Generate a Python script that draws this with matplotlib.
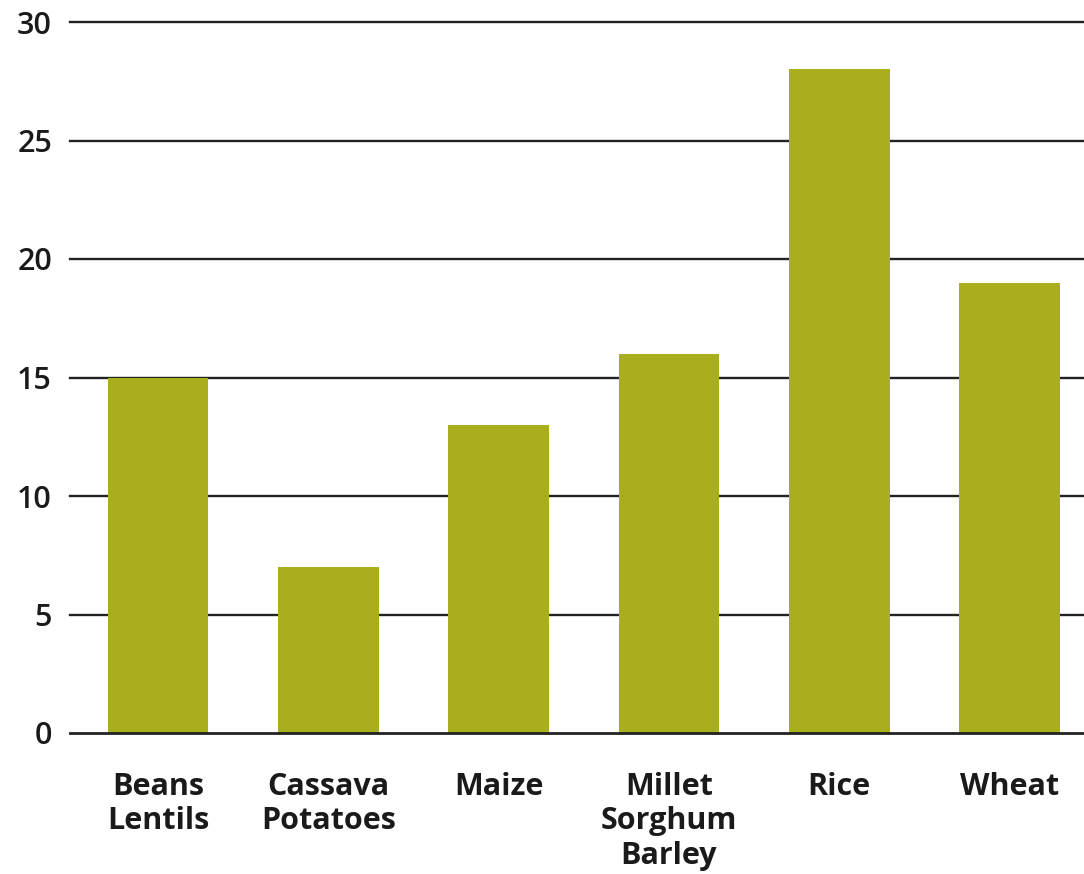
import matplotlib
matplotlib.use("Agg")
import matplotlib.pyplot as plt

categories = ["Beans\nLentils", "Cassava\nPotatoes", "Maize", "Millet\nSorghum\nBarley", "Rice", "Wheat"]
values = [15, 7, 13, 16, 28, 19]
yticks = [0, 5, 10, 15, 20, 25, 30]

plt.rcParams['font.family'] = ['Open Sans', 'DejaVu Sans']

fig = plt.figure(figsize=(10.84, 8.74), dpi=100)
ax = fig.add_axes([70/1084, 141/874, 1 - 70/1084, (733-22)/874])

x = list(range(len(categories)))
ax.set_axisbelow(True)
for t in yticks:
    ax.axhline(t, color='#222222', lw=1.7 if t else 2.0, zorder=0 if t else 3, clip_on=False)
ax.bar(x, values, width=0.59, color='#a8ae1c', zorder=2)

ax.set_xlim(-0.517, 5.437)
ax.set_ylim(0, 30)
ax.set_yticks(yticks)
ax.set_yticklabels([str(t) for t in yticks], fontsize=22, fontweight='semibold', color='#1a1a1a')
ax.set_xticks(x)
ax.set_xticklabels(categories, fontsize=22, fontweight='bold', color='#1a1a1a', linespacing=1.2)
ax.tick_params(axis='both', length=0)
ax.tick_params(axis='y', pad=13)
ax.tick_params(axis='x', pad=28)
for s in ax.spines.values():
    s.set_visible(False)

fig.savefig("out.png", dpi=100)
